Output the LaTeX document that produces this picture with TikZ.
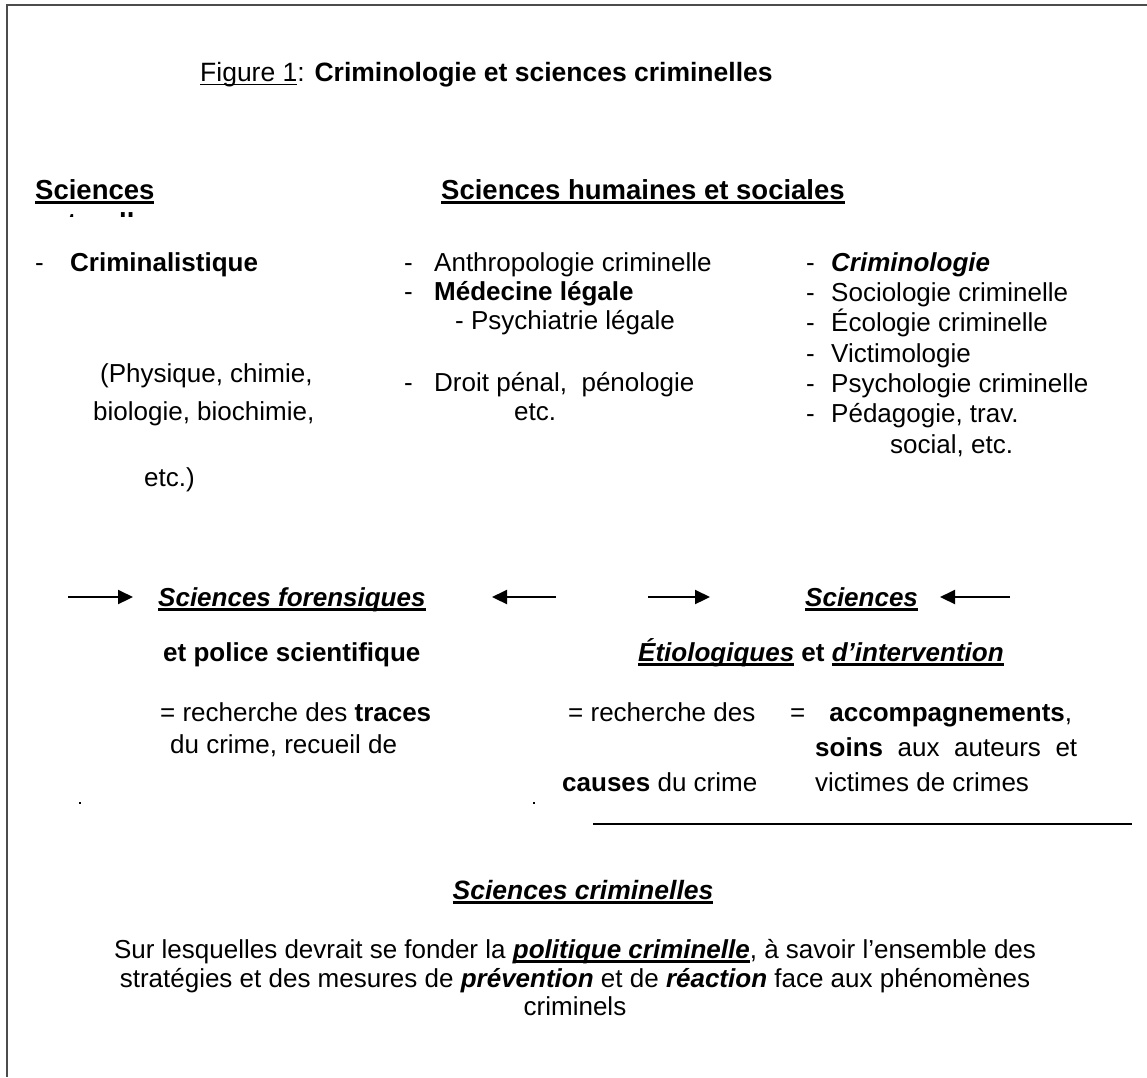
\documentclass[tikz,border=0pt]{standalone}
\usepackage{fontspec}
\setmainfont{Liberation Sans}
\usetikzlibrary{arrows.meta}
\newsavebox\ulbox
\newcommand\hu[1]{\sbox\ulbox{#1}\rlap{\rule[-5pt]{\wd\ulbox}{2.8pt}}\usebox\ulbox}
\newcommand\tu[1]{\sbox\ulbox{#1}\rlap{\rule[-4.4pt]{\wd\ulbox}{1.6pt}}\usebox\ulbox}
\newcommand\bi[1]{\textbf{\textit{#1}}}
\tikzset{
  txt/.style={inner sep=0pt, anchor=base west, font=\fontsize{26}{31}\selectfont},
  ctr/.style={txt, anchor=base},
  hd/.style={inner sep=0pt, anchor=base west, font=\fontsize{27.5}{33}\selectfont\bfseries},
  arr/.style={line width=2.2pt, -{Triangle[length=15pt,width=14pt]}},
  frame/.style={line width=2pt, draw=black!70},
  rule/.style={line width=1.6pt}
}
\begin{document}
\begin{tikzpicture}[x=1pt,y=-1pt]
\useasboundingbox (0,0) rectangle (1147,1077);
% frame (top and left only)
\coordinate (fa) at (1147,5);
\coordinate (fb) at (7,5);
\coordinate (fc) at (7,1077);
\draw[frame] (fa) -- (fb) -- (fc);
% title
\node[txt, font=\fontsize{26.5}{32}\selectfont] (title) at (200,81) {\tu{Figure 1}: \textbf{Criminologie et sciences criminelles}};
% headers
\node[hd] (sn) at (35,199) {\hu{Sciences}};
\begin{scope}
  \clip (30,207) rectangle (200,216);
  \node[hd] (snat) at (35,232) {naturelles};
\end{scope}
\node[hd] (shs) at (441,199) {\hu{Sciences humaines et sociales}};
% column 1
\node[txt] (c1d) at (35,271) {-};
\node[txt] (c1a) at (70,271) {\textbf{Criminalistique}};
\node[txt] (c1b) at (100,382) {(Physique, chimie,};
\node[txt] (c1c) at (93,420) {biologie, biochimie,};
\node[txt] (c1e) at (144,486) {etc.)};
% column 2
\node[txt] (c2d1) at (404,271) {-};
\node[txt] (c2a) at (434,271) {Anthropologie criminelle};
\node[txt] (c2d2) at (404,300) {-};
\node[txt] (c2b) at (434,300) {\textbf{Médecine légale}};
\node[txt] (c2c) at (455,329) {- Psychiatrie légale};
\node[txt] (c2d3) at (404,391) {-};
\node[txt] (c2e) at (434,391) {Droit pénal,\ \ pénologie};
\node[txt] (c2f) at (514,420) {etc.};
% column 3
\foreach \yy/\nm in {271/1,301/2,331/3,362/4,392/5,422/6}
  \node[txt] (c3d\nm) at (806,\yy) {-};
\node[txt] (c3a) at (831,271) {\bi{Criminologie}};
\node[txt] (c3b) at (831,301) {Sociologie criminelle};
\node[txt] (c3c) at (831,331) {Écologie criminelle};
\node[txt] (c3e) at (831,362) {Victimologie};
\node[txt] (c3f) at (831,392) {Psychologie criminelle};
\node[txt] (c3g) at (831,422) {Pédagogie, trav.};
\node[txt] (c3h) at (890,453) {social, etc.};
% arrows row
\node[txt] (sf) at (158,606) {\hu{\bi{Sciences forensiques}}};
\node[txt] (se) at (805,606) {\hu{\bi{Sciences}}};
\coordinate (a1s) at (68,597);  \coordinate (a1e) at (133,597);
\coordinate (a2s) at (556,597); \coordinate (a2e) at (492,597);
\coordinate (a3s) at (648,597); \coordinate (a3e) at (710,597);
\coordinate (a4s) at (1010,597); \coordinate (a4e) at (940,597);
\draw[arr] (a1s) -- (a1e);
\draw[arr] (a2s) -- (a2e);
\draw[arr] (a3s) -- (a3e);
\draw[arr] (a4s) -- (a4e);
\node[txt] (ps) at (163,661) {\textbf{et police scientifique}};
\node[txt] (ei) at (638,661) {\hu{\bi{Étiologiques}} \textbf{et} \hu{\bi{d’intervention}}};
% definitions
\node[txt] (d1a) at (160,721) {= recherche des \textbf{traces}};
\node[txt] (d1b) at (170,753) {du crime, recueil de};
\node[txt] (d2a) at (568,721) {= recherche des};
\node[txt] (d2b) at (562,791) {\textbf{causes} du crime};
\node[txt] (d3a) at (790,721) {=\hspace{24pt}\textbf{accompagnements},};
\node[txt] (d3b) at (815,756) {\makebox[262pt][s]{\textbf{soins} aux auteurs et}};
\node[txt] (d3c) at (815,791) {victimes de crimes};
% stray marks and rule
\fill (79,802) rectangle (81,804);
\fill (533,802) rectangle (535,804);
\coordinate (r1) at (593,824); \coordinate (r2) at (1132,824);
\draw[rule] (r1) -- (r2);
% bottom
\node[ctr, font=\fontsize{26.5}{32}\selectfont] (sc) at (583,899) {\hu{\bi{Sciences criminelles}}};
\node[ctr] (p1) at (575,958) {Sur lesquelles devrait se fonder la \hu{\bi{politique criminelle}}, à savoir l’ensemble des};
\node[ctr] (p2) at (575,987) {stratégies et des mesures de \bi{prévention} et de \bi{réaction} face aux phénomènes};
\node[ctr] (p3) at (575,1015) {criminels};
\end{tikzpicture}
\end{document}
